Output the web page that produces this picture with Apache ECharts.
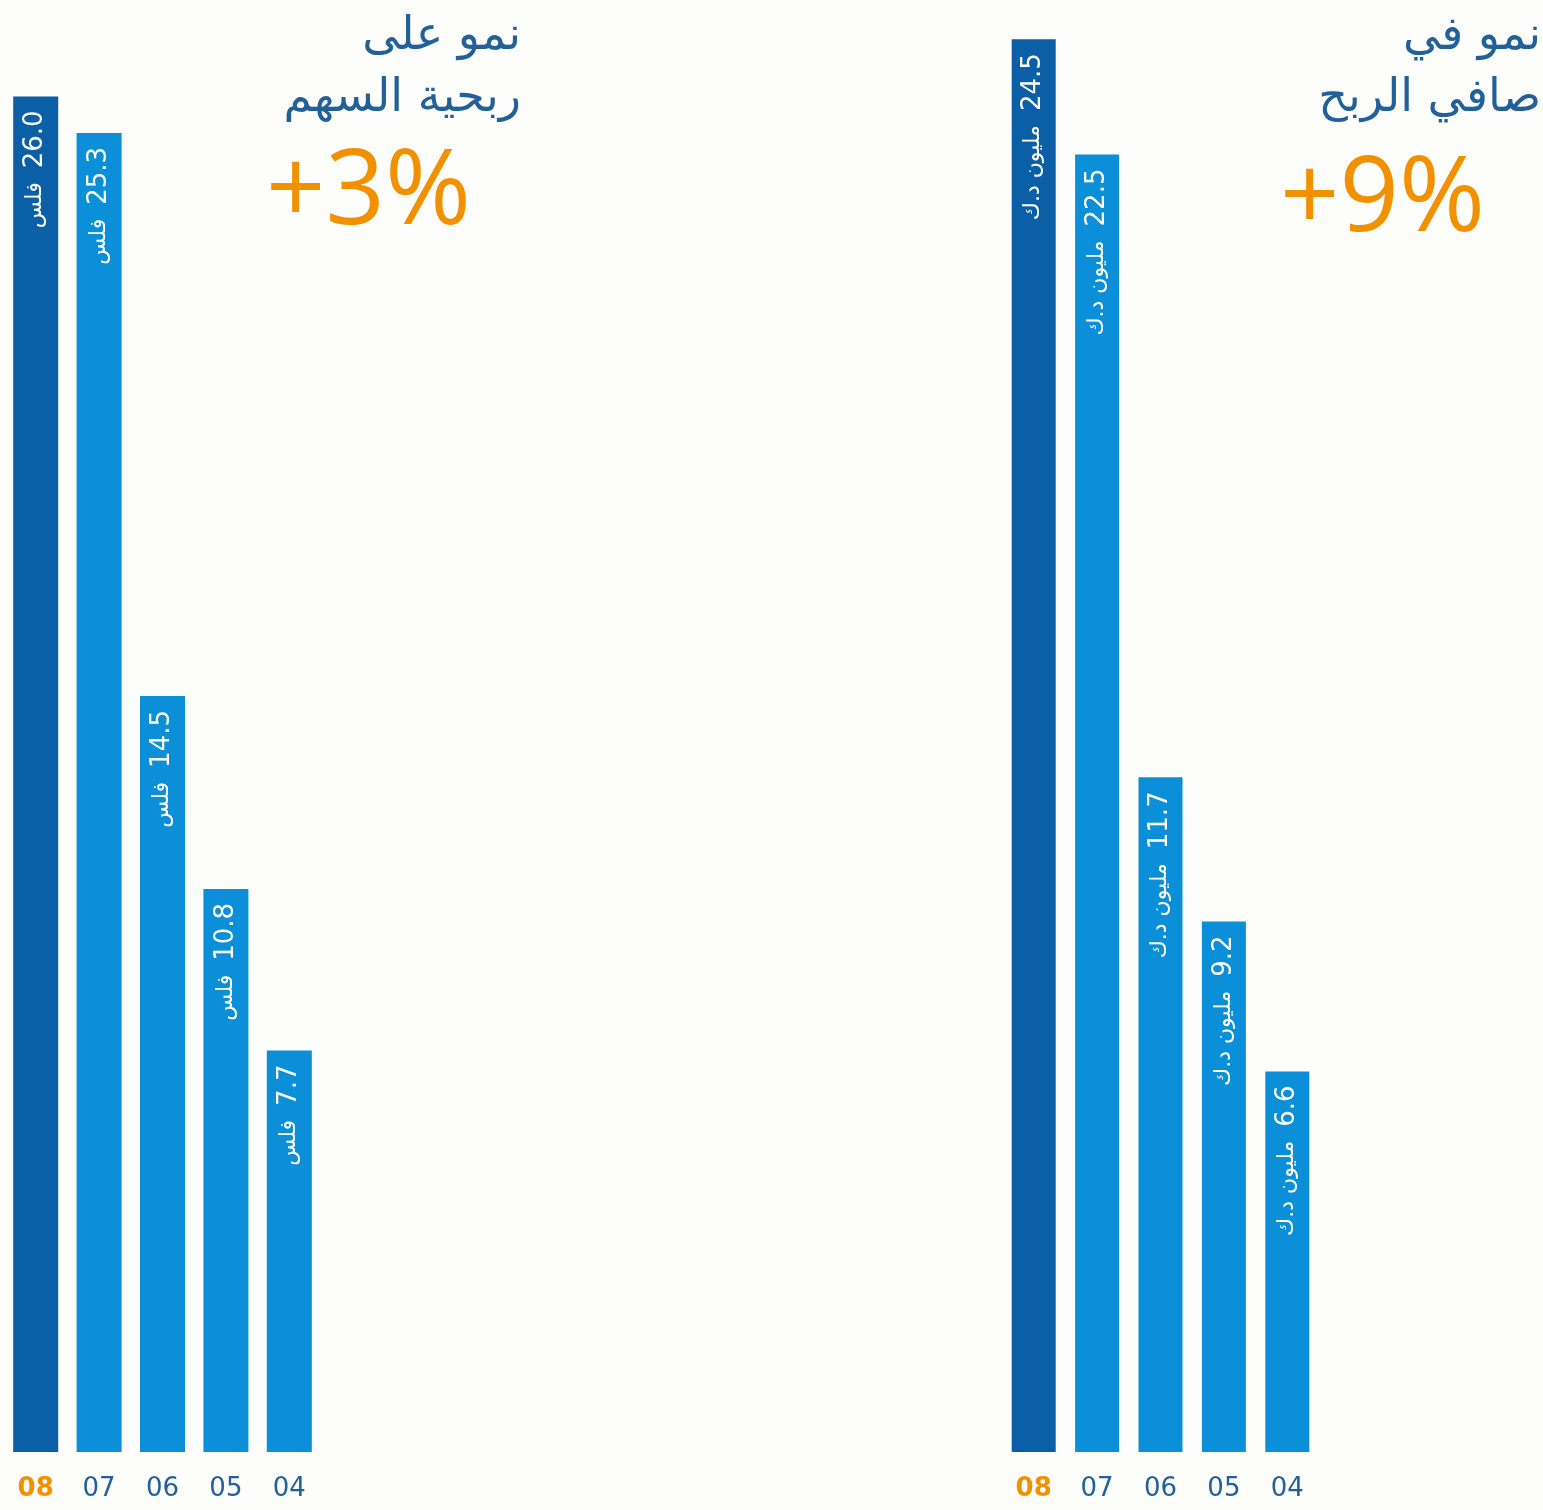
<!DOCTYPE html>
<html>
<head>
<meta charset="utf-8">
<style>
  html, body { margin: 0; padding: 0; background: #fdfdfc; }
  #chart { width: 1543px; height: 1510px; }
</style>
<script src="https://cdn.jsdelivr.net/npm/echarts@6/dist/echarts.min.js"></script>
</head>
<body>
<div id="chart"></div>
<script>
// years, newest first (as printed)
var years = ['08', '07', '06', '05', '04'];
// ربحية السهم (فلس)
var epsValues = [26.0, 25.3, 14.5, 10.8, 7.7];
// صافي الربح (مليون د.ك)
var profitValues = [24.5, 22.5, 11.7, 9.2, 6.6];

var epsTitle = ['نمو على', 'ربحية السهم'];
var epsGrowth = '+3%';
var epsUnit = 'فلس';
var profitTitle = ['نمو في', 'صافي الربح'];
var profitGrowth = '+9%';
var profitUnit = 'مليون د.ك';

var darkBlue = '#0a5fa7';
var lightBlue = '#0a8fd8';
var orange = '#f29100';
var textBlue = '#22609a';

var chart = echarts.init(document.getElementById('chart'));

function barData(values) {
  return values.map(function (v, i) {
    return {
      value: v,
      itemStyle: { color: i === 0 ? darkBlue : lightBlue }
    };
  });
}

function yearLabels() {
  return years.map(function (y, i) {
    if (i === 0) {
      return { value: y, textStyle: { color: orange, fontWeight: 'bold' } };
    }
    return y;
  });
}

function barLabel(unit) {
  return {
    show: true,
    position: 'insideTop',
    distance: 14,
    rotate: 90,
    align: 'right',
    verticalAlign: 'middle',
    formatter: function (p) {
      return '{u|' + unit + '}{v|' + p.value.toFixed(1) + '}';
    },
    rich: {
      u: { color: '#fff', fontSize: 22, fontFamily: 'DejaVu Sans', padding: [0, 14, 0, 0] },
      v: { color: '#fff', fontSize: 26, fontFamily: 'DejaVu Sans' }
    }
  };
}

var xAxisCommon = {
  type: 'category',
  axisLine: { show: false },
  axisTick: { show: false },
  axisLabel: {
    margin: 24,
    color: textBlue,
    fontSize: 26,
    fontFamily: 'DejaVu Sans'
  }
};

function titleLine(text, rightEdge, top) {
  return {
    type: 'text',
    right: 1543 - rightEdge,
    top: top,
    style: {
      text: text,
      fill: textBlue,
      font: '46px "DejaVu Sans"'
    }
  };
}

chart.setOption({
  backgroundColor: '#fdfdfc',
  animation: false,
  grid: [
    { left: 4, width: 317, top: 0, bottom: 58 },
    { left: 1002, width: 317, top: 0, bottom: 58 }
  ],
  xAxis: [
    Object.assign({ gridIndex: 0, data: yearLabels() }, xAxisCommon),
    Object.assign({ gridIndex: 1, data: yearLabels() }, xAxisCommon)
  ],
  yAxis: [
    { gridIndex: 0, type: 'value', min: 0, max: 27.85, show: false, splitLine: { show: false } },
    { gridIndex: 1, type: 'value', min: 0, max: 25.18, show: false, splitLine: { show: false } }
  ],
  series: [
    {
      type: 'bar',
      xAxisIndex: 0,
      yAxisIndex: 0,
      barWidth: 45,
      data: barData(epsValues),
      label: barLabel(epsUnit)
    },
    {
      type: 'bar',
      xAxisIndex: 1,
      yAxisIndex: 1,
      barWidth: 44,
      data: barData(profitValues),
      label: barLabel(profitUnit)
    }
  ],
  graphic: [
    titleLine(epsTitle[0], 521, 14),
    titleLine(epsTitle[1], 521, 76),
    {
      type: 'text',
      left: 266,
      top: 142,
      style: {
        text: epsGrowth,
        fill: orange,
        font: '104px "Open Sans"'
      }
    },
    titleLine(profitTitle[0], 1541, 14),
    titleLine(profitTitle[1], 1541, 76),
    {
      type: 'text',
      left: 1280,
      top: 149,
      style: {
        text: profitGrowth,
        fill: orange,
        font: '104px "Open Sans"'
      }
    }
  ]
});
</script>
</body>
</html>
